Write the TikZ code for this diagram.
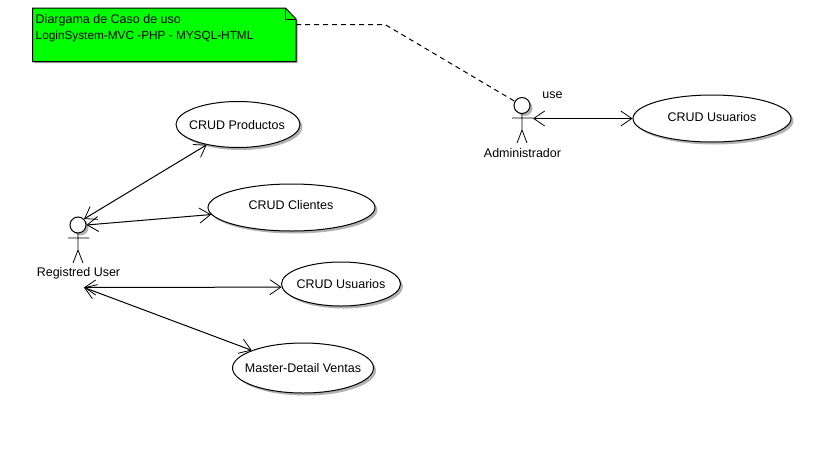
\documentclass[tikz,border=0pt]{standalone}
\usepackage{fontspec}
\setmainfont{Liberation Sans}
\usetikzlibrary{arrows.meta,shadows,shapes.geometric}
\tikzset{
  x=1pt,y=-1pt,
  softshadow/.style={drop shadow={shadow xshift=2.5pt,shadow yshift=-2.5pt,fill=black,opacity=0.3}},
  usecase/.style={ellipse,draw=black,line width=1pt,fill=white,softshadow,inner sep=0pt},
  label/.style={inner sep=0pt,font=\fontsize{12.5}{14}\selectfont},
  notetext/.style={inner sep=0pt,font=\fontsize{11.8}{14}\selectfont},
  actorhead/.style={circle,draw=black,line width=1pt,fill=white,softshadow,minimum size=16pt,inner sep=0pt},
  limb/.style={draw=black,line width=0.8pt},
  assoc/.style={draw=black,line width=1pt,{Straight Barb[length=11pt,width=15pt,line width=0.8pt]}-{Straight Barb[length=11pt,width=15pt,line width=0.8pt]}},
  notelink/.style={draw=black,line width=1pt,dash pattern=on 5pt off 4pt}
}
\begin{document}
\begin{tikzpicture}
\useasboundingbox (0,0) rectangle (824,450);
% note
\path[draw=black,line width=1pt,fill=green,drop shadow={shadow xshift=1.5pt,shadow yshift=-1.5pt,fill=black,opacity=0.35}]
  (32.5,8) -- (285.5,8) -- (296,19) -- (296,61.5) -- (32.5,61.5) -- cycle;
\draw[black,line width=0.8pt] (285.5,8) -- (285.5,19) -- (296,19);
\node[label,anchor=west] (notea) at (35.5,20.5) {Diargama de Caso de uso};
\node[notetext,anchor=west] (noteb) at (35.5,36) {LoginSystem-MVC -PHP - MYSQL-HTML};
\coordinate (noteport) at (296,24.5);
\coordinate (notebend) at (385,24.5);
% left actor
\draw[limb] (78,233) -- (78,250) (68,238) -- (89,238) (78,250) -- (73,263) (78,250) -- (83,263);
\node[actorhead] (reguser) at (78,225) {};
\node[label] (reglabel) at (78.5,273.5) {Registred User};
\coordinate (regport) at (84,287.5);
% right actor
\draw[limb] (522,113) -- (522,130) (512,118) -- (533,118) (522,130) -- (517,143) (522,130) -- (527,143);
\node[actorhead] (admin) at (522,105.5) {};
\node[label] (adminlabel) at (522.5,153.5) {Administrador};
\coordinate (adminport) at (533,118.5);
% use cases
\node[usecase,minimum width=124pt,minimum height=46pt] (prod) at (238,124.5) {};
\node[label] at (237,125) {CRUD Productos};
\node[usecase,minimum width=167pt,minimum height=47pt] (cli) at (291.5,207.5) {};
\node[label] at (291,205.5) {CRUD Clientes};
\node[usecase,minimum width=119pt,minimum height=44pt] (usu) at (341,284) {};
\node[label] at (341,284) {CRUD Usuarios};
\node[usecase,minimum width=141pt,minimum height=50pt] (mast) at (303,368) {};
\node[label] at (303,368) {Master-Detail Ventas};
\node[usecase,minimum width=158pt,minimum height=47pt] (usu2) at (712,118.5) {};
\node[label] at (712,117.5) {CRUD Usuarios};
\node[label] (uselabel) at (552.5,95) {use};
% connectors
\draw[notelink] (noteport) -- (notebend) -- (admin.150);
\draw[assoc] (reguser.north east) -- (prod.213);
\draw[assoc] (reguser.east) -- (cli.185);
\draw[assoc] (regport) -- (usu.183);
\draw[assoc] (regport) -- (mast.161);
\draw[assoc] (adminport) -- (usu2.180);
\end{tikzpicture}
\end{document}
